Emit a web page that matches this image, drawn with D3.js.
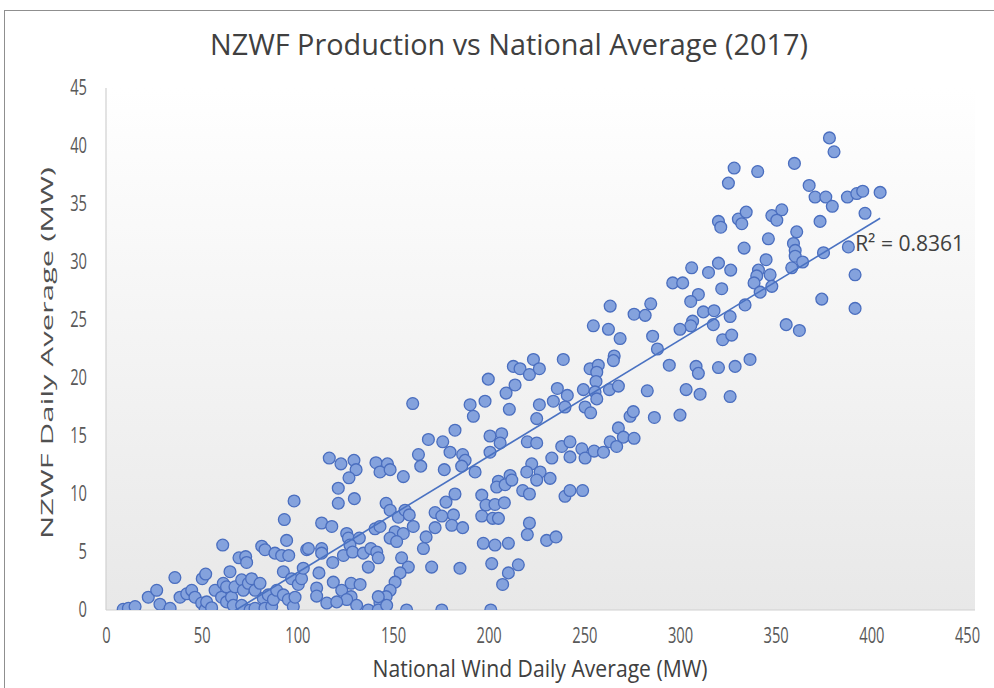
<!DOCTYPE html>
<html>
<head>
<meta charset="utf-8">
<script src="https://cdn.jsdelivr.net/npm/d3@7"></script>
<style>
  html, body { margin: 0; padding: 0; background: #fff; }
  svg { display: block; font-family: "Open Sans", "Noto Sans", sans-serif; }
</style>
</head>
<body>
<svg id="chart" width="994" height="688"></svg>
<script>
// ---- chart data ----
const chartTitle = "NZWF Production vs National Average (2017)";
const xAxisTitle = "National Wind Daily Average (MW)";
const yAxisTitle = "NZWF Daily Average (MW)";
const rSquaredLabel = "R\u00B2 = 0.8361";
const xTicks = [0, 50, 100, 150, 200, 250, 300, 350, 400, 450];
const yTicks = [0, 5, 10, 15, 20, 25, 30, 35, 40, 45];

// [national wind daily average MW, NZWF daily average MW]
const lowWindDays = [
  [9,0.06],[11.7,0.15],[15.2,0.3],[22.1,1.1],[26.5,1.7],[28.2,0.5],[33.5,0.15],[36,2.8],
  [38.7,1.1],[42.2,1.4],[44.8,1.7],[46.5,1.1],[50,0.6],[50.3,2.7],[51.8,0],[52.1,3.1],
  [52.6,0.7],[55.2,0.2],[57,1.7],[60.4,1.1],[61,5.6],[61.3,2.3],[63,2.0],[63,0.7],
  [64.8,3.3],[65.6,1.1],[66.5,0.4],[67.4,2.0],[69.5,4.5],[70.9,2.6],[70.9,0.4],[71.8,1.7],
  [73,4.6],[73.5,4.1],[74.4,2.3],[75.3,0],[76.1,2.7],[77.9,1.7],[77.9,0.15],[80.5,2.3],
  [81.4,5.5],[82.2,1.0],[83.1,5.2],[83.1,0.15],[84.8,1.3],[86.6,0.3],[87.5,0.9],[88.3,4.9],
  [89.2,1.7],[91.8,4.7],[92.7,3.3],[92.7,1.3],[93.2,7.8],[94.4,6.0],[95.3,0.9],[95.5,4.7],
  [97,2.7],[97.9,0.3],[98.3,9.4],[98.8,1.1],[100.5,2.2],[102.2,2.7],[103.1,3.6],[104.9,5.2]
];
const midWindDays = [
  [182.4,15.5],[168.5,14.7],[176,14.5],[179.8,13.6],[116.7,13.1],[122.8,12.6],[129.6,12.9],
  [130.7,12.1],[127,11.4],[141.1,12.7],[147.1,12.6],[143.2,11.9],[148.5,12.1],[155.4,11.5],
  [163.3,13.4],[164.5,12.4],[176.8,12.1],[186.4,13.4],[187.7,12.9],[185.9,12.4],[192.9,11.9],
  [121.4,10.5],[121.4,9.2],[129.8,9.6],[146.4,9.2],[148.5,8.6],[152.8,8.0],[156.3,8.6],
  [158.5,8.2],[177.7,9.3],[182.4,10.0],[172,8.4],[175.5,8.1],[181.6,8.2],[180.7,7.3],
  [186.4,7.1],[172,7.1],[167.3,6.3],[112.7,7.5],[118,7.2],[125.8,6.6],[126.7,6.2],
  [132.4,6.2],[127.5,5.6],[140.6,7.0],[143.2,7.2],[151.1,6.75],[155.4,6.6],[160.6,7.2],
  [148.5,6.2],[151.9,5.9],[105.8,5.3],[112.7,5.3],[112.7,4.9],[118.5,4.1],[124.1,4.7],
  [128.9,5.0],[134.5,4.9],[138.4,5.3],[141.5,5.0],[142.3,4.5],[165.9,5.3],[111.3,3.2],
  [137.1,3.7],[154.5,4.5],[158,3.7],[170.2,3.7],[185,3.6],[118.8,2.4],[123.2,1.7],
  [128.1,2.3],[132.8,2.2],[128.1,1.15],[125.8,0.9],[110.1,1.9],[110.1,1.2],[115.4,0.6],
  [120.6,0.7],[131,0.4],[153.7,3.2],[151.1,2.4],[148.5,1.7],[146.4,1.15],[143.2,0.6],
  [142.3,1.15],[137.1,0],[142.3,0],[146.7,0.4],[157.1,0],[175.5,0],[160.3,17.8]
];
const highWindDays = [
  [263.5,26.2],[276,25.5],[281.8,25.4],[284.7,26.4],[254.7,24.5],[262.6,24.2],[268.7,23.4],
  [285.7,23.6],[288.2,22.5],[223.4,21.6],[212.9,21.0],[216.4,20.8],[221.3,20.3],[226.5,20.8],
  [239,21.6],[253,20.8],[257.3,21.1],[256.5,20.5],[265.6,21.9],[265.2,21.5],[199.8,19.9],
  [209.1,18.7],[213.8,19.4],[198.1,18.0],[190.3,17.7],[192,16.7],[210.8,17.3],[226.5,17.7],
  [225.1,16.5],[235.9,19.1],[233.8,18.0],[241.1,18.5],[239.9,17.5],[249.5,19.0],[256.1,19.7],
  [255.6,18.8],[256.5,18.2],[250.4,17.5],[253.3,17.0],[263.1,19.0],[267.8,19.3],[282.9,18.9],
  [294.4,21.1],[286.6,16.6],[273.9,16.7],[275.6,17.1],[200.7,15.0],[206.8,15.2],[206,14.4],
  [200.7,13.6],[220.2,14.5],[225.1,14.4],[238.2,14.1],[242.5,14.5],[242.5,13.2],[233,13.1],
  [248.7,13.9],[250.4,13.1],[255.1,13.7],[260,13.6],[263.5,14.5],[266.9,14.1],[267.8,15.7],
  [270.4,14.9],[276,14.8],[196.4,9.9],[198.6,9.05],[203.3,9.1],[208.2,9.25],[196.4,8.1],
  [202.1,7.9],[205.1,7.9],[205.1,11.1],[211.2,11.6],[204.2,10.6],[208.6,10.8],[212.1,11.2],
  [222.5,12.6],[219.9,11.9],[226.9,11.9],[225.1,11.2],[232.1,11.35],[217.8,10.3],[221.3,10.0],
  [239.9,9.8],[242.5,10.3],[249.1,10.3],[221.3,7.5],[220.2,6.5],[197.2,5.75],[203.3,5.6],
  [210.3,5.75],[230.3,6.0],[235.2,6.3],[201.6,4.0],[215.5,3.9],[210.3,3.2],[207.3,2.2],[201.1,0]
];
const peakWindDays = [
  [378.1,40.7],[380.5,39.5],[328.3,38.1],[325.3,36.8],[340.6,37.8],[359.8,38.5],[367.5,36.6],
  [370.6,35.6],[376.2,35.6],[379.6,34.8],[387.5,35.6],[392.4,35.9],[395.5,36.1],[404.6,36.0],
  [396.7,34.2],[320.1,33.5],[321.3,33.0],[330.5,33.7],[332.3,33.3],[334.6,34.3],[348,34.0],
  [353.2,34.5],[350.6,33.6],[373.2,33.5],[361,32.6],[359.3,31.6],[360.2,31.0],[360.2,30.5],
  [364.1,30.0],[358.4,29.5],[346.2,32.0],[333.5,31.2],[388,31.3],[375,30.8],[345,30.2],
  [341,29.3],[340.1,28.8],[338.7,28.2],[347.1,28.9],[341.9,27.4],[348,27.9],[391.5,28.9],
  [320.1,29.9],[314.9,29.1],[326.5,29.3],[306.1,29.5],[296.2,28.2],[301.4,28.2],[309.6,27.2],
  [305.6,26.6],[321.8,27.7],[374.1,26.8],[391.5,26.0],[312.2,25.7],[317.8,25.8],[306.6,24.9],
  [305.6,24.5],[300,24.2],[317.4,24.6],[326.2,25.3],[334,26.3],[355.5,24.6],[362.4,24.1],
  [322.3,23.3],[327,23.7],[308.4,21.0],[309.6,20.4],[320.1,20.9],[328.8,21.0],[336.6,21.6],
  [303.2,19.0],[310.5,18.6],[326.2,18.4],[300,16.8]
];
const dailyPoints = [...lowWindDays, ...midWindDays, ...highWindDays, ...peakWindDays];

// ---- layout ----
const W = 994, H = 688;
const plot = { left: 106, right: 975, top: 88, bottom: 610 };
const textSquash = 0.7;

const svg = d3.select("#chart");
const x = d3.scaleLinear().domain([0, 450]).range([106, 967]);
const y = d3.scaleLinear().domain([0, 45]).range([plot.bottom, plot.top]);

// chart frame
svg.append("rect")
  .attr("x", 4.5).attr("y", 10.5).attr("width", W + 10).attr("height", H + 10)
  .attr("fill", "#fff").attr("stroke", "#8f8f8f").attr("stroke-width", 1);

// plot area background gradient
const defs = svg.append("defs");
const grad = defs.append("linearGradient").attr("id", "plotBg")
  .attr("x1", 0).attr("y1", 0).attr("x2", 0).attr("y2", 1);
grad.append("stop").attr("offset", "0%").attr("stop-color", "#ffffff");
grad.append("stop").attr("offset", "100%").attr("stop-color", "#e8e8e8");
defs.append("clipPath").attr("id", "plotClip").append("rect")
  .attr("x", plot.left).attr("y", plot.top)
  .attr("width", plot.right - plot.left).attr("height", plot.bottom - plot.top);

svg.append("rect")
  .attr("x", plot.left).attr("y", plot.top)
  .attr("width", plot.right - plot.left).attr("height", plot.bottom - plot.top)
  .attr("fill", "url(#plotBg)");

// axis lines across the plot area
svg.append("line")
  .attr("x1", plot.left).attr("x2", plot.left).attr("y1", plot.top).attr("y2", plot.bottom)
  .attr("stroke", "#d0d0d0").attr("stroke-width", 1.2);
svg.append("line")
  .attr("x1", plot.left).attr("x2", plot.right).attr("y1", plot.bottom).attr("y2", plot.bottom)
  .attr("stroke", "#d0d0d0").attr("stroke-width", 1.2);

// tick labels
const yAxis = svg.append("g")
  .attr("transform", `translate(${plot.left},0)`)
  .call(d3.axisLeft(y).tickValues(yTicks).tickSize(0).tickPadding(19));
const xAxis = svg.append("g")
  .attr("transform", `translate(0,${plot.bottom})`)
  .call(d3.axisBottom(x).tickValues(xTicks).tickSize(0).tickPadding(18));

[xAxis, yAxis].forEach(g => {
  g.select(".domain").remove();
  g.selectAll(".tick text")
    .attr("fill", "#595959")
    .style("font-size", "21px")
    .style("font-family", "'Open Sans', sans-serif");
});
xAxis.selectAll(".tick text").attr("transform", `scale(${textSquash},1)`);
yAxis.selectAll(".tick text")
  .attr("x", -19 / textSquash)
  .attr("transform", `scale(${textSquash},1)`);

// least-squares trendline
const mx = d3.mean(dailyPoints, d => d[0]);
const my = d3.mean(dailyPoints, d => d[1]);
const sxy = d3.sum(dailyPoints, d => (d[0] - mx) * (d[1] - my));
const sxx = d3.sum(dailyPoints, d => (d[0] - mx) ** 2);
const slope = sxy / sxx;
const intercept = my - slope * mx;
const [xMin, xMax] = d3.extent(dailyPoints, d => d[0]);
const trend = [[xMin, intercept + slope * xMin], [xMax, intercept + slope * xMax]];

// markers
svg.append("g").attr("clip-path", "url(#plotClip)")
  .selectAll("circle").data(dailyPoints).join("circle")
  .attr("cx", d => x(d[0])).attr("cy", d => y(d[1])).attr("r", 5.9)
  .attr("fill", "#84a2dd").attr("stroke", "#4a6ebf").attr("stroke-width", 1.3);

svg.append("path").attr("clip-path", "url(#plotClip)")
  .attr("d", d3.line().x(d => x(d[0])).y(d => y(d[1]))(trend))
  .attr("fill", "none").attr("stroke", "#4a72c2").attr("stroke-width", 1.6);

// R² label beside the end of the trendline
svg.append("text")
  .attr("x", x(trend[1][0]) - 25).attr("y", y(trend[1][1]) + 33)
  .attr("textLength", 109).attr("lengthAdjust", "spacingAndGlyphs")
  .attr("fill", "#404040").style("font-size", "21px")
  .text(rSquaredLabel);

// titles
svg.append("text")
  .attr("x", 509).attr("y", 55).attr("text-anchor", "middle")
  .attr("textLength", 598).attr("lengthAdjust", "spacingAndGlyphs")
  .attr("fill", "#404040").style("font-size", "29px")
  .text(chartTitle);

svg.append("text")
  .attr("x", 540).attr("y", 677).attr("text-anchor", "middle")
  .attr("textLength", 335).attr("lengthAdjust", "spacingAndGlyphs")
  .attr("fill", "#404040").style("font-size", "23px")
  .text(xAxisTitle);

svg.append("text")
  .attr("transform", `translate(53,${(plot.top + plot.bottom) / 2 + 4}) rotate(-90)`)
  .attr("text-anchor", "middle")
  .attr("textLength", 372).attr("lengthAdjust", "spacingAndGlyphs")
  .attr("fill", "#505050").style("font-size", "17px")
  .text(yAxisTitle);
</script>
</body>
</html>
